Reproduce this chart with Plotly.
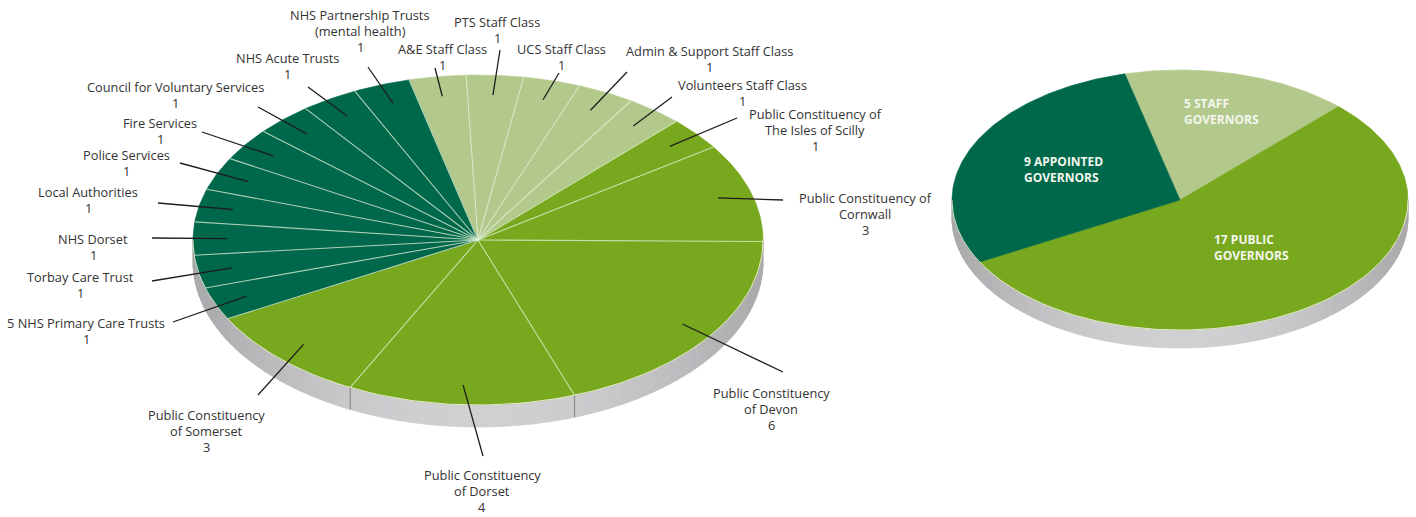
import numpy as np
import plotly.graph_objects as go

# Council of Governors: seats per constituency, clockwise from the staff classes
seat_names = [
    "A&E Staff Class", "PTS Staff Class", "UCS Staff Class",
    "Admin & Support Staff Class", "Volunteers Staff Class",
    "Public Constituency of<br>The Isles of Scilly", "Public Constituency of<br>Cornwall",
    "Public Constituency<br>of Devon", "Public Constituency<br>of Dorset",
    "Public Constituency<br>of Somerset",
    "5 NHS Primary Care Trusts", "Torbay Care Trust", "NHS Dorset",
    "Local Authorities", "Police Services", "Fire Services",
    "Council for Voluntary Services", "NHS Acute Trusts",
    "NHS Partnership Trusts<br>(mental health)",
]
seat_counts = [1, 1, 1, 1, 1,
               1, 3, 6, 4, 3,
               1, 1, 1, 1, 1, 1, 1, 1, 1]
seat_groups = ["staff"] * 5 + ["public"] * 5 + ["appointed"] * 9

# Summary by governor type
group_keys = ["staff", "public", "appointed"]
group_names = ["5 STAFF<br>GOVERNORS", "17 PUBLIC<br>GOVERNORS", "9 APPOINTED<br>GOVERNORS"]
group_counts = [5, 17, 9]

# ---- styling / layout ----
W, H = 1416, 517
COLORS = {"staff": "#b3c98c", "public": "#78a81d", "appointed": "#00684a"}
START_DEG = -14.0
FONT = "Open Sans"
LINE_H = 16

left_pie = dict(cx=478, cy=240, rx=285, ry=165, depth=22)
right_pie = dict(cx=1180, cy=200, rx=228, ry=130, depth=18)

# label anchor (text centre x, first-line centre y) and leader end point
seat_label_pos = [
    (442, 49), (497, 22), (561, 49), (709, 51), (742, 85),
    (815, 114), (865, 198), (771, 393), (482, 475), (206, 415),
    (86, 323), (80, 277), (93, 239), (88, 192), (126, 155),
    (160, 123), (175, 87), (287, 58), (360, 15),
]
leader_end = [
    (435, 68), (500, 50), (559, 73), (627, 72), (672, 97),
    (737, 118), (783, 200), (783, 372), (483, 456), (258, 395),
    (173, 322), (152, 281), (152, 238), (158, 203), (180, 163),
    (202, 132), (258, 107), (308, 87), (368, 67),
]
LEADER_R = 0.88

group_label_pos = [(1183, 103), (1213, 239), (1023, 161)]


def ell(p, t_deg, frac=1.0, dy=0.0):
    t = np.radians(t_deg)
    return (p["cx"] + frac * p["rx"] * np.sin(t),
            p["cy"] - frac * p["ry"] * np.cos(t) + dy)


def boundaries(counts):
    cum = np.concatenate([[0], np.cumsum(counts)])
    return START_DEG + 360.0 * cum / cum[-1]


def side_traces(p, bounds):
    traces = []
    steps = np.arange(90, 270.001, 2.0)
    for a0, a1 in zip(steps[:-1], steps[1:]):
        shade = abs(np.sin(np.radians((a0 + a1) / 2)))
        g = int(round(208 - 40 * shade ** 2))
        xs0, ys0 = ell(p, a0)
        xs1, ys1 = ell(p, a1)
        xs = [xs0, xs1, xs1, xs0, xs0]
        ys = [ys0, ys1, ys1 + p["depth"], ys0 + p["depth"], ys0]
        col = f"rgb({g},{g},{g + 3})"
        traces.append(go.Scatter(x=xs, y=ys, mode="lines", fill="toself",
                                 fillcolor=col, line=dict(color=col, width=0.8),
                                 hoverinfo="skip"))
    # seams on the lit part of the rim where slices meet
    sx, sy = [], []
    for a in bounds:
        a_n = a % 360
        if 90 < a_n < 270 and abs(np.sin(np.radians(a_n))) < 0.8:
            x0, y0 = ell(p, a_n)
            sx += [x0, x0, None]
            sy += [y0, y0 + p["depth"], None]
    if sx:
        traces.append(go.Scatter(x=sx, y=sy, mode="lines",
                                 line=dict(color="rgba(100,100,100,0.7)", width=1),
                                 hoverinfo="skip"))
    return traces


def slice_traces(p, counts, groups, names, separators=True):
    traces = []
    b = boundaries(counts)
    for i, (a0, a1) in enumerate(zip(b[:-1], b[1:])):
        ts = np.linspace(a0, a1, max(4, int((a1 - a0) / 0.8)))
        ax, ay = ell(p, ts)
        xs = np.concatenate([[p["cx"]], ax, [p["cx"]]])
        ys = np.concatenate([[p["cy"]], ay, [p["cy"]]])
        col = COLORS[groups[i]]
        traces.append(go.Scatter(
            x=xs, y=ys, mode="lines", fill="toself", fillcolor=col,
            line=dict(color=col, width=0.6),
            text=names[i].replace("<br>", " ") + f": {counts[i]}",
            hoverinfo="text", hoveron="fills"))
    # light rim along the front edge
    ts = np.linspace(90, 270, 120)
    rx_, ry_ = ell(p, ts)
    traces.append(go.Scatter(x=rx_, y=ry_, mode="lines",
                             line=dict(color="rgba(236,240,214,0.9)", width=1),
                             hoverinfo="skip"))
    if separators:
        sx, sy = [], []
        for a in b[:-1]:
            x1, y1 = ell(p, a)
            sx += [p["cx"], x1, None]
            sy += [p["cy"], y1, None]
        traces.append(go.Scatter(x=sx, y=sy, mode="lines",
                                 line=dict(color="rgba(225,240,215,0.75)", width=1.1),
                                 hoverinfo="skip"))
    return traces


fig = go.Figure()

left_bounds = boundaries(seat_counts)
right_bounds = boundaries(group_counts)

for tr in side_traces(left_pie, left_bounds):
    fig.add_trace(tr)
for tr in side_traces(right_pie, right_bounds):
    fig.add_trace(tr)
for tr in slice_traces(left_pie, seat_counts, seat_groups, seat_names):
    fig.add_trace(tr)
for tr in slice_traces(right_pie, group_counts, group_keys, group_names,
                       separators=False):
    fig.add_trace(tr)

# leader lines from each slice to its label
lx, ly = [], []
mids = (left_bounds[:-1] + left_bounds[1:]) / 2
for mid, end in zip(mids, leader_end):
    x0, y0 = ell(left_pie, mid, LEADER_R)
    lx += [x0, end[0], None]
    ly += [y0, end[1], None]
fig.add_trace(go.Scatter(x=lx, y=ly, mode="lines",
                         line=dict(color="#1e1e1e", width=1.3), hoverinfo="skip"))

annotations = []
# one annotation per text line so the line pitch stays fixed
for name, n, (x, y) in zip(seat_names, seat_counts, seat_label_pos):
    lines = name.split("<br>") + [str(n)]
    for k, line in enumerate(lines):
        annotations.append(dict(
            x=x, y=y + k * LINE_H, xref="x", yref="y",
            xanchor="center", yanchor="middle",
            text=line, showarrow=False, align="center", borderpad=0,
            font=dict(family=FONT, size=12.8, color="#333333")))
for name, (x, y) in zip(group_names, group_label_pos):
    for k, line in enumerate(name.split("<br>")):
        annotations.append(dict(
            x=x, y=y + k * LINE_H, xref="x", yref="y",
            xanchor="left", yanchor="middle",
            text=f"<b>{line}</b>", showarrow=False, align="left", borderpad=0,
            font=dict(family=FONT, size=12, color="#f4f6ee")))

fig.update_layout(
    width=W, height=H, autosize=False,
    margin=dict(l=0, r=0, t=0, b=0),
    paper_bgcolor="white", plot_bgcolor="white",
    showlegend=False,
    xaxis=dict(range=[0, W], visible=False, fixedrange=True),
    yaxis=dict(range=[H, 0], visible=False, fixedrange=True),
    annotations=annotations,
)

fig.write_html("out.html")
